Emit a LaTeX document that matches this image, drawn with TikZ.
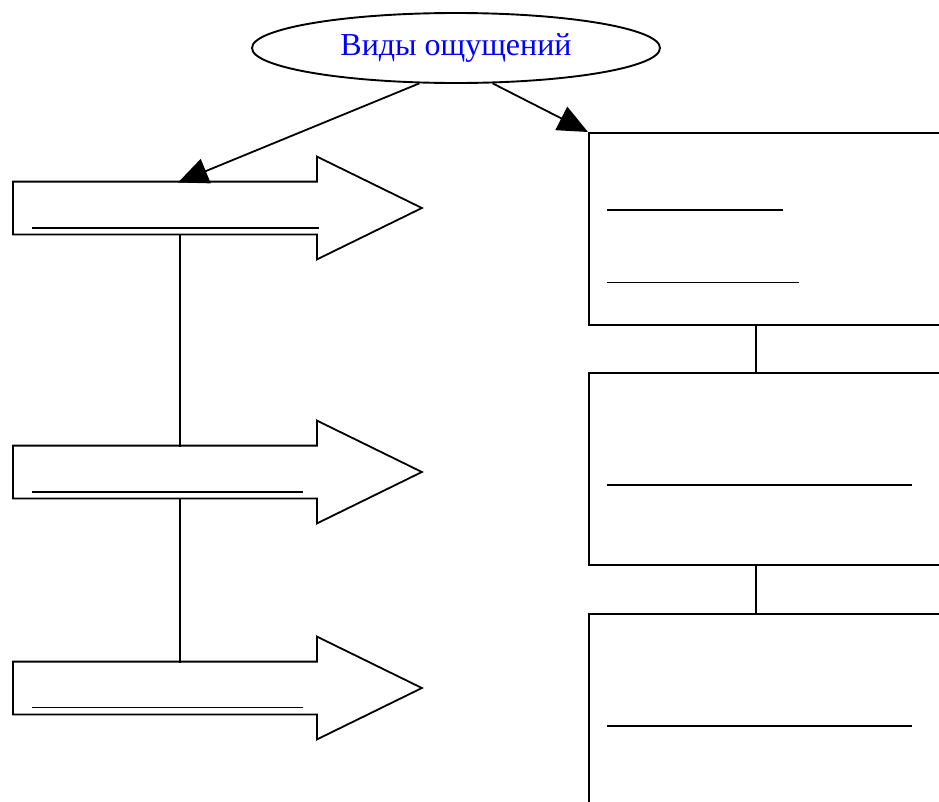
\documentclass[tikz,border=0pt]{standalone}
\usepackage{fontspec}
\setmainfont{Liberation Serif}
\usetikzlibrary{shapes.geometric,shapes.arrows,arrows.meta}

\tikzset{
  topic/.style={shape=ellipse,draw=black,line width=1.9pt,minimum width=408pt,minimum height=70pt,inner sep=0pt,text=blue,font=\fontsize{32}{38}\selectfont},
  blockarrow/.style={shape=single arrow,draw=black,fill=white,line width=1.8pt,inner xsep=0pt,inner ysep=25.5pt,minimum height=409pt,single arrow head extend=25pt,single arrow tip angle=52.2,anchor=tail},
  box/.style={shape=rectangle,draw=black,fill=white,line width=2.2pt,minimum width=372pt,anchor=north west},
  link/.style={draw=black,line width=1.8pt},
  blank/.style={draw=black,line width=1.4pt}
}

\begin{document}
\begin{tikzpicture}[x=1pt,y=-1pt]
\useasboundingbox (0,0) rectangle (939,801);
\clip (0,0) rectangle (939,801);
\node[topic] (0) at (456,48) {Виды ощущений};
\node[blockarrow] (1) at (12,208) {};
\node[blockarrow] (2) at (12,472) {};
\node[blockarrow] (3) at (12,688) {};
\node[box,minimum height=192pt] (4) at (588,132) {};
\node[box,minimum height=192pt] (5) at (588,372) {};
\node[box,minimum height=220pt] (6) at (588,612.5) {};

\draw [-{Triangle[length=30pt,width=26pt]},link] (0.-136) -- ([shift={(166,-25.5)}]1.tail);
\draw [-{Triangle[length=30pt,width=26pt]},link] (0.-44) -- (4.north west);
\draw [link] ([shift={(168,25.5)}]1.tail) -- ([shift={(168,-25.5)}]2.tail);
\draw [link] ([shift={(168,25.5)}]2.tail) -- ([shift={(168,-25.5)}]3.tail);
\draw [link] ([xshift=168pt]4.south west) -- ([xshift=168pt]5.north west);
\draw [link] ([xshift=168pt]5.south west) -- ([xshift=168pt]6.north west);

\draw[blank] ([shift={(19.7,20)}]1.tail) -- ++(287,0);
\draw[blank] ([shift={(19.7,20)}]2.tail) -- ++(271.6,0);
\draw[blank] ([shift={(19.7,19.3)}]3.tail) -- ++(271.6,0);
\draw[blank] ([shift={(18.7,78)}]4.north west) -- ++(176.3,0);
\draw[blank] ([shift={(18.7,150.7)}]4.north west) -- ++(192.6,0);
\draw[blank] ([shift={(18.7,112.8)}]5.north west) -- ++(305,0);
\draw[blank] ([shift={(18.7,113.5)}]6.north west) -- ++(305,0);
\end{tikzpicture}
\end{document}
